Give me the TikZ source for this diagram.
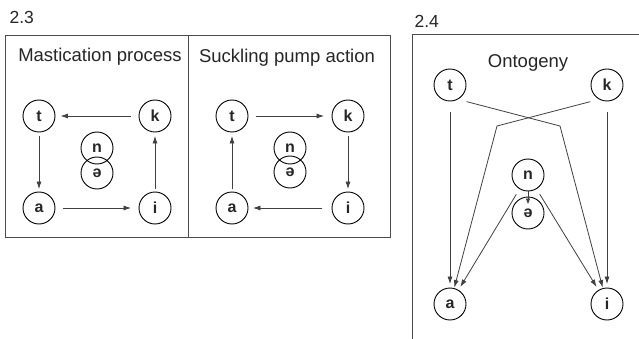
\documentclass[tikz,border=0pt]{standalone}
\usepackage{fontspec}
\setmainfont{Liberation Sans}
\usetikzlibrary{arrows.meta}
\begin{document}
\begin{tikzpicture}[x=1pt,y=-1pt,
  ph/.style={circle,draw=black,line width=0.9pt,minimum size=32pt,inner sep=0pt,font=\fontsize{16}{16}\selectfont\bfseries,text=black!85},
  frame/.style={draw=black!70,line width=1pt},
  arr/.style={draw=black!75,line width=0.8pt,-{Latex[length=7.5pt,width=5pt]}},
  title/.style={font=\fontsize{18.5}{20}\selectfont,text=black!85,anchor=base},
  lab/.style={font=\fontsize{17.5}{20}\selectfont,text=black!85,anchor=base west}]
\useasboundingbox (0,0) rectangle (639,339);
% labels and frames
\node[lab] (l23) at (6,24) {2.3};
\node[lab] (l24) at (411,28) {2.4};
\draw[frame] (5,36) rectangle (390,237);
\draw[frame] (188,36) -- (188,237);
\draw[frame] (412,340) -- (412,35) -- (640,35);
\node[title] (tm) at (100,62) {Mastication process};
\node[title] (ts) at (287,63) {Suckling pump action};
\node[title] (to) at (528,68) {Ontogeny};
% Mastication
\node[ph] (t1) at (39,116) {t};
\node[ph] (k1) at (155,116) {k};
\node[ph] (n1) at (97,148) {n};
\node[ph] (e1) at (97,173) {ə};
\node[ph] (a1) at (39,208) {a};
\node[ph] (i1) at (155,208) {i};
\draw[arr,shorten <=8pt,shorten >=5pt] (k1) -- (t1);
\draw[arr,shorten <=3.5pt,shorten >=2.5pt] (t1) -- (a1);
\draw[arr,shorten <=7.5pt,shorten >=7.5pt] (a1) -- (i1);
\draw[arr,shorten <=2.5pt,shorten >=3.5pt] (i1) -- (k1);
% Suckling
\node[ph] (t2) at (232,116) {t};
\node[ph] (k2) at (348,116) {k};
\node[ph] (n2) at (290,148) {n};
\node[ph] (e2) at (290,172) {ə};
\node[ph] (a2) at (232,208) {a};
\node[ph] (i2) at (348,208) {i};
\draw[arr,shorten <=7.5pt,shorten >=7.5pt] (t2) -- (k2);
\draw[arr,shorten <=3.5pt,shorten >=2.5pt] (k2) -- (i2);
\draw[arr,shorten <=9.5pt,shorten >=4.5pt] (i2) -- (a2);
\draw[arr,shorten <=2.5pt,shorten >=3.5pt] (a2) -- (t2);
% Ontogeny
\node[ph] (t3) at (450,85) {t};
\node[ph] (k3) at (607,85) {k};
\node[ph] (n3) at (528,175) {n};
\node[ph] (e3) at (528,213) {ə};
\node[ph] (a3) at (450,304) {a};
\node[ph] (i3) at (607,304) {i};
\coordinate (ti) at (560,126);
\coordinate (ka) at (497,126);
\draw[arr,shorten <=11pt,shorten >=3.5pt] (t3) -- (a3);
\draw[arr,shorten <=11pt,shorten >=3.5pt] (k3) -- (i3);
\draw[arr,shorten >=17pt] ([shift={(5,5)}]t3.south east) -- (ti) -- (i3.center);
\draw[arr,shorten >=17pt] ([shift={(-5,5)}]k3.south west) -- (ka) -- (a3.center);
\draw[arr,shorten <=6pt,shorten >=3.5pt] (n3) -- (a3);
\draw[arr,shorten <=6pt,shorten >=3.5pt] (n3) -- (i3);
\draw[arr,-{Latex[length=6pt,width=4.5pt]},shorten >=-8pt] (n3) -- (e3);
\end{tikzpicture}
\end{document}
